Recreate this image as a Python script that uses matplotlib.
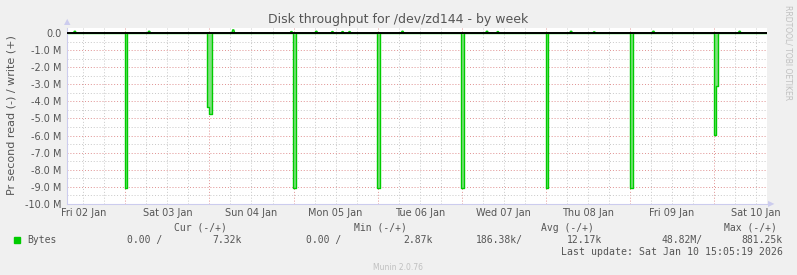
#!/usr/bin/env python3
# Munin style disk throughput week graph

import matplotlib
matplotlib.use("Agg")
import matplotlib.pyplot as plt
from matplotlib.ticker import FuncFormatter, MultipleLocator

# hours since Fri 02 Jan 00:00
day_labels = ["Fri 02 Jan", "Sat 03 Jan", "Sun 04 Jan", "Mon 05 Jan", "Tue 06 Jan",
              "Wed 07 Jan", "Thu 08 Jan", "Fri 09 Jan", "Sat 10 Jan"]

# read (drawn negative), bytes/s, step points
read_t = [7.4, 23.9, 23.9, 24.6, 24.6,
          47.4, 47.4, 47.95, 47.95, 48.8, 48.8,
          71.9, 71.9, 72.7, 72.7,
          95.9, 95.9, 96.7, 96.7,
          119.8, 119.8, 120.7, 120.7,
          143.9, 143.9, 144.7, 144.7,
          167.9, 167.9, 168.8, 168.8,
          192.1, 192.1, 192.5, 192.5, 193.2, 193.2, 207.1]
read_v = [0, 0, -9.05e6, -9.05e6, 0,
          0, -4.3e6, -4.3e6, -4.75e6, -4.75e6, 0,
          0, -9.05e6, -9.05e6, 0,
          0, -9.05e6, -9.05e6, 0,
          0, -9.05e6, -9.05e6, 0,
          0, -9.05e6, -9.05e6, 0,
          0, -9.05e6, -9.05e6, 0,
          0, -5.96e6, -5.96e6, -3.12e6, -3.12e6, 0, 0]

# write (positive) small bumps
write_t = [9.6, 30.8, 54.8, 71.4, 78.5, 83.1, 86.0, 88.0, 103.1, 127.2, 130.3,
           151.2, 157.8, 174.7, 199.3]
write_v = [0.1e6, 0.1e6, 0.18e6, 0.08e6, 0.1e6, 0.08e6, 0.08e6, 0.08e6, 0.1e6,
           0.1e6, 0.08e6, 0.1e6, 0.06e6, 0.1e6, 0.1e6]

legend_cols = ["Cur (-/+)", "Min (-/+)", "Avg (-/+)", "Max (-/+)"]
legend_vals = ["0.00 /", "7.32k", "0.00 /", "2.87k", "186.38k/", "12.17k", "48.82M/", "881.25k"]

W, H = 797, 275
fig = plt.figure(figsize=(W / 100, H / 100), dpi=100, facecolor="#F0F0F0")
ax = fig.add_axes([67 / W, (H - 204) / H, 700 / W, 176 / H])
ax.set_facecolor("white")

green = "#00CC00"
ax.fill_between(read_t, read_v, 0, color="#7FE07F", lw=0, zorder=2)
ax.plot(read_t, read_v, color=green, lw=1.0, zorder=2)

wt, wv = [7.4], [0]
for t, v in zip(write_t, write_v):
    wt += [t - 0.4, t - 0.15, t + 0.15, t + 0.4]
    wv += [0, v, v, 0]
wt.append(207.1)
wv.append(0)
ax.fill_between(wt, wv, 0, color="#7FE07F", lw=0, zorder=2)
ax.plot(wt, wv, color=green, lw=1.0, zorder=2)
ax.axhline(0, color="black", lw=1.4, zorder=5)

ax.set_xlim(7.36, 207.1)
ax.set_ylim(-10e6, 0.29e6)

# grid
for h in range(12, 207, 6):
    if h % 24:
        ax.axvline(h, color="#C8C8C8", lw=0.7, ls=(0, (1, 2)), zorder=0)
for h in range(24, 207, 24):
    ax.axvline(h, color="#E09090", lw=0.7, ls=(0, (1, 2)), zorder=0)
for i in range(0, 20):
    y = -0.5e6 - i * 1e6
    ax.axhline(y, color="#C8C8C8", lw=0.7, ls=(0, (1, 2)), zorder=0)
for i in range(1, 10):
    ax.axhline(-i * 1e6, color="#E09090", lw=0.7, ls=(0, (1, 2)), zorder=0)

ax.set_xticks([12 + 24 * i for i in range(len(day_labels))])
ax.set_xticklabels(day_labels)
ax.yaxis.set_major_locator(MultipleLocator(1e6))
ax.yaxis.set_major_formatter(FuncFormatter(
    lambda v, p: "0.0" if abs(v) < 1 else "%.1f M" % (v / 1e6)))
ax.tick_params(axis="both", length=0, labelsize=7, colors="#555555", pad=4)
ax.tick_params(axis="x", pad=3)
for s in ["top", "right"]:
    ax.spines[s].set_visible(False)
ax.spines["left"].set_color("#CCCCEE")
ax.spines["bottom"].set_color("#CCCCEE")

# axis arrows
fig.text(67 / W, 1 - 22 / H, "\u25B2", color="#CCCCEE", fontsize=6, ha="center", va="center")
fig.text(771 / W, 1 - 204 / H, "\u25B6", color="#CCCCEE", fontsize=6, ha="center", va="center")

fig.text(398 / W, 1 - 19 / H, "Disk throughput for /dev/zd144 - by week",
         ha="center", va="center", fontsize=9, color="#555555")
fig.text(12 / W, 1 - 115 / H, "Pr second read (-) / write (+)", rotation=90,
         ha="center", va="center", fontsize=8, color="#555555")
fig.text(788 / W, 1 - 5 / H, "RRDTOOL/ TOBI OETIKER", rotation=270,
         ha="center", va="top", fontsize=5.5, color="#C0C0C0")

mono = "DejaVu Sans Mono"
for name, x in zip(legend_cols, [200, 380, 567, 750]):
    fig.text(x / W, 1 - 228 / H, name, ha="center", va="center",
             family=mono, fontsize=7, color="#555555")
fig.patches.append(plt.Rectangle((14 / W, 1 - 243 / H), 6 / W, 6 / H,
                                 transform=fig.transFigure, color=green, figure=fig))
fig.text(27 / W, 1 - 240 / H, "Bytes", ha="left", va="center",
         family=mono, fontsize=7, color="#555555")
for val, x in zip(legend_vals, [162, 242, 341, 433, 523, 602, 703, 783]):
    fig.text(x / W, 1 - 240 / H, val, ha="right", va="center",
             family=mono, fontsize=7, color="#555555")
fig.text(783 / W, 1 - 252 / H, "Last update: Sat Jan 10 15:05:19 2026",
         ha="right", va="center", family=mono, fontsize=7.1, color="#555555")
fig.text(398 / W, 1 - 268 / H, "Munin 2.0.76", ha="center", va="center",
         fontsize=5.5, color="#C0C0C0")

fig.savefig("out.png", dpi=100, facecolor=fig.get_facecolor())
